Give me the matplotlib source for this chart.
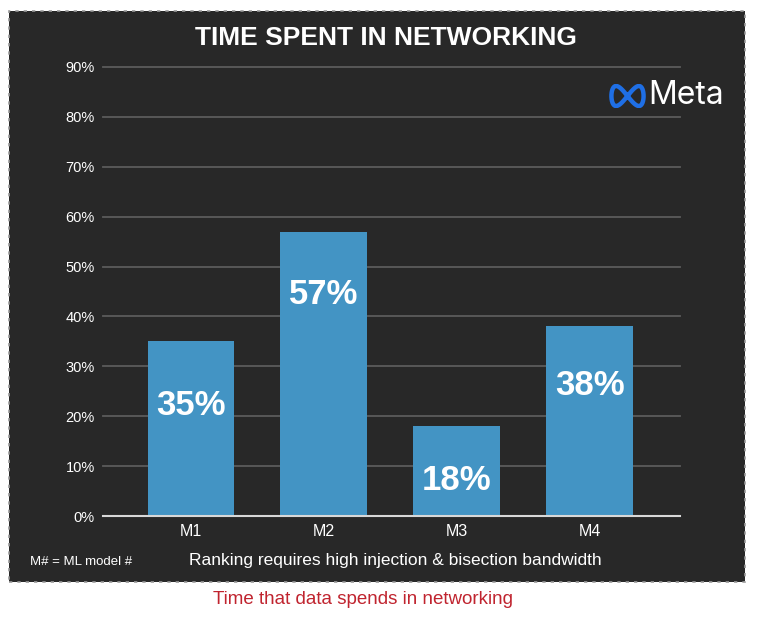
import numpy as np
import matplotlib
matplotlib.use("Agg")
import matplotlib.pyplot as plt
from matplotlib.patches import Rectangle
from matplotlib.ticker import FuncFormatter

plt.rcParams['font.family'] = ['Liberation Sans', 'DejaVu Sans']

categories = ["M1", "M2", "M3", "M4"]
values = [0.35, 0.57, 0.18, 0.38]
labels = ["35%", "57%", "18%", "38%"]
yticks = [0, 0.1, 0.2, 0.3, 0.4, 0.5, 0.6, 0.7, 0.8, 0.9]

# label drop below bar top, in pixels (layout, not data)
label_drop_px = [64, 63, 54, 59]

W, H = 762, 618
fig = plt.figure(figsize=(W / 100, H / 100), dpi=100)
fig.patch.set_facecolor("white")

def fx(px):
    return px / W

def fy(py):
    return 1 - py / H

panel = Rectangle((fx(9), fy(582)), fx(745) - fx(9), fy(11) - fy(582),
                  transform=fig.transFigure, facecolor="#282828",
                  edgecolor="#9a9a9a", linestyle=(0, (2, 3)), linewidth=1.2,
                  zorder=-10)
fig.patches.append(panel)

ax = fig.add_axes([fx(103), fy(516), fx(680) - fx(103), fy(67) - fy(516)])
ax.set_zorder(2)
ax.set_facecolor("none")
x = np.arange(len(categories))
bars = ax.bar(x, values, width=0.65, color="#4394c4", zorder=3)
ax.set_xlim(-0.66, 3.68)
ax.set_ylim(0, 0.9)
ax.set_yticks(yticks)
ax.yaxis.set_major_formatter(FuncFormatter(lambda v, p: f"{v*100:.0f}%"))
ax.set_xticks(x)
ax.set_xticklabels(categories)
ax.grid(axis="y", color="#5c5c5c", linewidth=1.3, zorder=0)
for g in ax.get_ygridlines():
    g.set_clip_on(False)
for s in ["top", "right", "left"]:
    ax.spines[s].set_visible(False)
ax.spines["bottom"].set_color("#d8d8d8")
ax.spines["bottom"].set_linewidth(1.5)
ax.spines["bottom"].set_zorder(4)
ax.tick_params(axis="both", length=0, colors="white")
ax.tick_params(axis="y", pad=6, labelsize=10.5)
ax.tick_params(axis="x", pad=6, labelsize=11.5)

for xi, v, lab, d in zip(x, values, labels, label_drop_px):
    ax.annotate(lab, (xi, v), xytext=(0, -d * 0.72), textcoords="offset points",
                ha="center", va="center", color="white", fontsize=25,
                fontweight="bold", zorder=5)

fig.text(fx(386), fy(38), "TIME SPENT IN NETWORKING", ha="center", va="center",
         color="white", fontsize=19, fontweight="bold", zorder=5)
fig.text(fx(395), fy(561), "Ranking requires high injection & bisection bandwidth",
         ha="center", va="center", color="white", fontsize=12.5, zorder=5)
fig.text(fx(30), fy(562), "M# = ML model #", ha="left", va="center",
         color="white", fontsize=9.5, zorder=5)
fig.text(fx(363), fy(600), "Time that data spends in networking", ha="center",
         va="center", color="#c0242f", fontsize=13.5, zorder=5)

# Meta logo
lax = fig.add_axes([fx(609), fy(108), fx(646) - fx(609), fy(84) - fy(108)])
lax.set_zorder(3)
lax.set_axis_off()
t = np.linspace(0, 2 * np.pi, 400)
lx = np.sin(t)
ly = np.sin(t) * np.cos(t) * 1.25
lax.plot(lx, ly, color="#1f6fe5", linewidth=3.2, solid_capstyle="round")
lax.set_xlim(-1.15, 1.15)
lax.set_ylim(-0.75, 0.75)
fig.text(fx(648), fy(96), "Meta", ha="left", va="center", color="white",
         fontsize=23, family=["Inter", "DejaVu Sans"], zorder=5)

fig.savefig("out.png", dpi=100, facecolor=fig.get_facecolor())
